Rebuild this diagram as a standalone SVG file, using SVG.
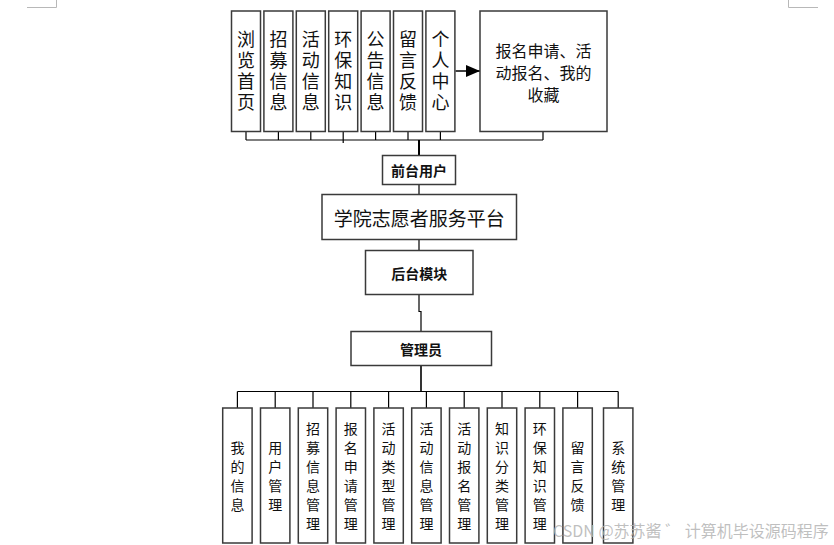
<svg xmlns="http://www.w3.org/2000/svg" width="834" height="545" viewBox="0 0 834 545">
<style>
.box{fill:#fff;stroke:#3a3a3a;stroke-width:1.5}
.ln{fill:none;stroke:#000;stroke-width:1.2}
.t{font-family:"Noto Sans CJK SC","Noto Sans",sans-serif;fill:#111;text-anchor:middle;dominant-baseline:central}
.v{writing-mode:vertical-rl;text-anchor:middle}
.t18{font-size:18px;letter-spacing:3px}
.t14{font-size:14px}
.vs{letter-spacing:5px}
.b{font-weight:bold}
.mark{fill:none;stroke:#b8b8b8;stroke-width:1}
</style>
<defs>
<marker id="arr" viewBox="0 0 14 12" refX="14" refY="6" markerWidth="14" markerHeight="12" markerUnits="userSpaceOnUse" orient="auto">
<path d="M0,0 L14,6 L0,12 z" fill="#000"/>
</marker>
</defs>
<rect width="834" height="545" fill="#fff"/>
<path class="mark" d="M27,7.5 H56.5 V0 M788.5,0 V7.5 H818"/>
<g id="connectors">
<path class="ln" d="M246,131.5 V140 M278.4,131.5 V140 M310.8,131.5 V140 M343.2,131.5 V143 M375.6,131.5 V140 M408,131.5 V140 M440.4,131.5 V140 M543,131.5 V140 M246,140 H543"/>
<path class="ln" style="stroke-width:2" d="M419,140 V155.5"/>
<path class="ln" d="M419,184.5 V194.5 M419,239.5 V250.5 M419,294.5 V311.5 H421 V331.5"/>
<path class="ln" style="stroke-width:1.6" d="M421,365.5 V391.5"/>
<path class="ln" d="M237.4,391.5 H618.2 M237.4,391.5 V408 M275.2,391.5 V408 M313,391.5 V408 M350.8,391.5 V408 M388.6,391.5 V408 M426.4,391.5 V408 M464.2,391.5 V408 M502,391.5 V408 M539.8,391.5 V408 M577.6,391.5 V408 M618.2,391.5 V408"/>
<path class="ln" style="stroke-width:1.5" d="M455.5,71 H480" marker-end="url(#arr)"/>
</g>
<g id="n1"><rect class="box" x="231.5" y="11" width="29" height="120.5"/><text class="t v t18" x="246" y="72.5">浏览首页</text></g>
<g id="n2"><rect class="box" x="263.9" y="11" width="29" height="120.5"/><text class="t v t18" x="278.4" y="72.5">招募信息</text></g>
<g id="n3"><rect class="box" x="296.3" y="11" width="29" height="120.5"/><text class="t v t18" x="310.8" y="72.5">活动信息</text></g>
<g id="n4"><rect class="box" x="328.7" y="11" width="29" height="120.5"/><text class="t v t18" x="343.2" y="72.5">环保知识</text></g>
<g id="n5"><rect class="box" x="361.1" y="11" width="29" height="120.5"/><text class="t v t18" x="375.6" y="72.5">公告信息</text></g>
<g id="n6"><rect class="box" x="393.5" y="11" width="29" height="120.5"/><text class="t v t18" x="408" y="72.5">留言反馈</text></g>
<g id="n7"><rect class="box" x="425.9" y="11" width="29" height="120.5"/><text class="t v t18" x="440.4" y="72.5">个人中心</text></g>
<g id="n8"><rect class="box" x="480" y="11" width="127" height="120.5"/><text class="t" style="font-size:16px"><tspan x="543.5" y="49.5">报名申请、活</tspan><tspan x="543.5" y="71.5">动报名、我的</tspan><tspan x="543.5" y="93.5">收藏</tspan></text></g>
<g id="qiantai"><rect class="box" x="382.5" y="155.5" width="73" height="29"/><text class="t t14 b" x="419" y="170">前台用户</text></g>
<g id="platform"><rect class="box" x="322" y="194.5" width="194.5" height="45"/><text class="t" style="font-size:19px" x="419.3" y="217.5">学院志愿者服务平台</text></g>
<g id="houtai"><rect class="box" x="365.5" y="250.5" width="107.5" height="44"/><text class="t t14 b" x="419.3" y="273">后台模块</text></g>
<g id="admin"><rect class="box" x="351" y="331.5" width="140.5" height="34"/><text class="t t14 b" x="421" y="349">管理员</text></g>
<g id="m1"><rect class="box" x="222.7" y="408" width="29.4" height="135"/><text class="t v t14 vs" x="237.4" y="478.5">我的信息</text></g>
<g id="m2"><rect class="box" x="260.5" y="408" width="29.4" height="135"/><text class="t v t14 vs" x="275.2" y="478.5">用户管理</text></g>
<g id="m3"><rect class="box" x="298.3" y="408" width="29.4" height="135"/><text class="t v t14 vs" x="313" y="478.5">招募信息管理</text></g>
<g id="m4"><rect class="box" x="336.1" y="408" width="29.4" height="135"/><text class="t v t14 vs" x="350.8" y="478.5">报名申请管理</text></g>
<g id="m5"><rect class="box" x="373.9" y="408" width="29.4" height="135"/><text class="t v t14 vs" x="388.6" y="478.5">活动类型管理</text></g>
<g id="m6"><rect class="box" x="411.7" y="408" width="29.4" height="135"/><text class="t v t14 vs" x="426.4" y="478.5">活动信息管理</text></g>
<g id="m7"><rect class="box" x="449.5" y="408" width="29.4" height="135"/><text class="t v t14 vs" x="464.2" y="478.5">活动报名管理</text></g>
<g id="m8"><rect class="box" x="487.3" y="408" width="29.4" height="135"/><text class="t v t14 vs" x="502" y="478.5">知识分类管理</text></g>
<g id="m9"><rect class="box" x="525.1" y="408" width="29.4" height="135"/><text class="t v t14 vs" x="539.8" y="478.5">环保知识管理</text></g>
<g id="m10"><rect class="box" x="562.9" y="408" width="29.4" height="135"/><text class="t v t14 vs" x="577.6" y="478.5">留言反馈</text></g>
<g id="m11"><rect class="box" x="603.5" y="408" width="29.4" height="135"/><text class="t v t14 vs" x="618.2" y="478.5">系统管理</text></g>
<text x="553" y="530" style="font-family:'Noto Sans CJK SC','Noto Sans',sans-serif;font-size:16px;fill:#b4b4b4;fill-opacity:0.85;dominant-baseline:central">CSDN @苏苏酱 ゛ 计算机毕设源码程序</text>
</svg>
